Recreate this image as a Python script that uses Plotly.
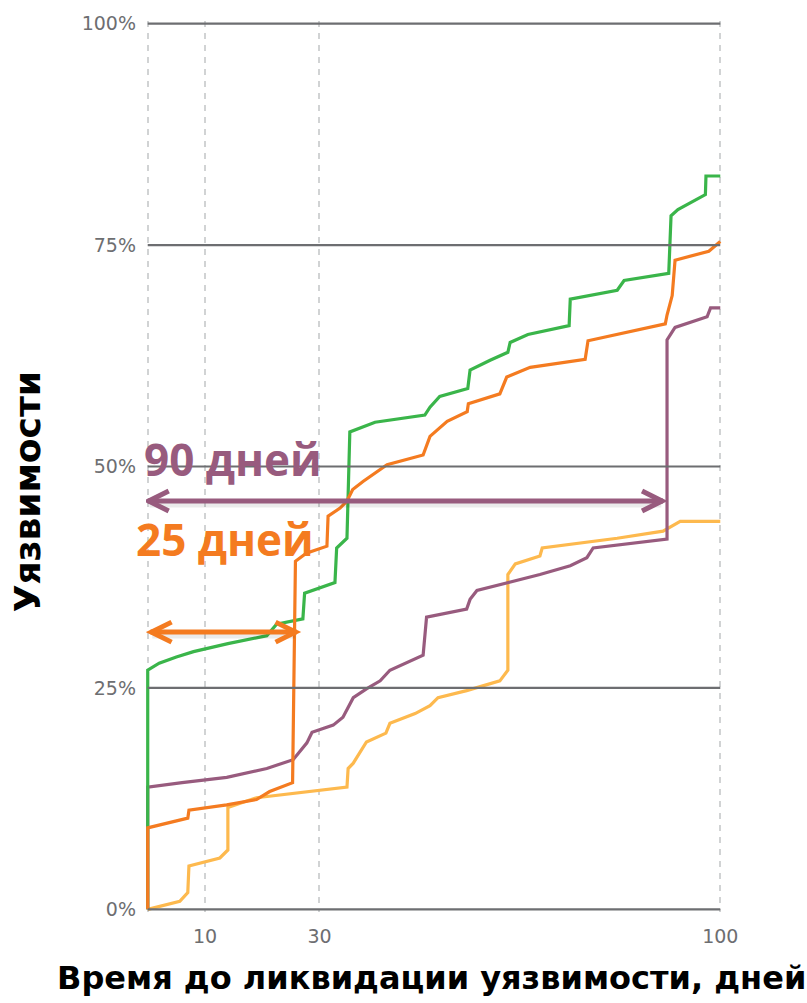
import plotly.graph_objects as go

# ---------------- data ----------------
green_x = [0, 0, 2, 5, 8, 14, 20.8, 22.5, 27.1, 27.4, 32.7, 33.0, 34.8, 35.3, 39.7, 48.4, 49.3, 51.0,
           55.9, 56.3, 59.8, 62.9, 63.3, 66.4, 73.6, 73.8, 82.0, 83.2, 91.0, 91.4, 92.6, 97.4, 97.5, 100]
green_y = [0, 27.0, 27.8, 28.5, 29.1, 30.0, 30.9, 32.2, 32.8, 35.7, 36.9, 40.8, 41.9, 53.9, 55.0, 55.8,
           56.7, 57.9, 58.8, 60.9, 62.0, 62.9, 64.0, 64.9, 65.9, 68.9, 69.9, 71.0, 71.8, 78.3, 79.0, 80.7,
           82.8, 82.8]

orange_x = [0, 0, 7.0, 7.2, 13.8, 19.0, 21.3, 25.3, 25.8, 27.7, 31.3, 31.5, 33.6, 34.8, 35.8, 37.6, 41.8,
            48.1, 49.3, 52.3, 55.8, 56.0, 61.5, 62.7, 66.8, 76.4, 76.9, 90.4, 90.7, 91.6, 92.1, 98.0, 100]
orange_y = [0, 9.2, 10.3, 11.2, 11.8, 12.4, 13.3, 14.3, 39.3, 40.2, 41.0, 44.4, 45.3, 46.1, 47.4, 48.3,
            50.2, 51.3, 53.4, 55.1, 56.2, 57.1, 58.2, 60.1, 61.2, 62.1, 64.2, 66.1, 67.1, 69.3, 73.3, 74.3,
            75.4]

purple_x = [0, 0, 6.0, 13.8, 20.8, 25.4, 27.8, 28.7, 32.4, 34.1, 35.9, 38.2, 40.6, 42.3, 48.1, 48.7,
            55.7, 56.3, 57.5, 68.5, 73.8, 76.7, 77.8, 90.7, 90.7, 92.1, 97.7, 98.3, 100]
purple_y = [0, 13.8, 14.3, 14.9, 15.9, 16.9, 18.8, 20.0, 20.8, 21.7, 23.9, 24.9, 25.8, 27.0, 28.7, 33.0,
            33.9, 35.0, 36.0, 37.8, 38.8, 39.7, 40.8, 41.8, 64.3, 65.7, 66.9, 67.9, 67.9]

yellow_x = [0, 5.6, 7.0, 7.2, 12.6, 14.0, 14.0, 19.0, 34.8, 35.0, 35.9, 38.2, 41.6, 42.3, 46.7, 49.3,
            50.7, 55.7, 61.5, 62.9, 62.9, 64.2, 68.5, 68.9, 82.0, 90.0, 93.0, 100]
yellow_y = [0, 0.9, 1.9, 4.9, 5.8, 6.7, 11.5, 12.6, 13.8, 15.9, 16.5, 18.9, 19.9, 21.0, 22.1, 23.0,
            23.9, 24.7, 25.8, 27.0, 37.8, 39.0, 39.9, 40.8, 41.9, 42.7, 43.8, 43.8]

x_tick_vals = [0, 10, 30, 100]
x_tick_text = ["", "10", "30", "100"]
y_tick_vals = [0, 25, 50, 75, 100]
y_tick_text = ["0%", "25%", "50%", "75%", "100%"]

# arrows: (start day, end day, level %)
purple_arrow = [0, 90, 46.1]
orange_arrow = [0.5, 26, 31.3]
purple_label = "90 дней"
orange_label = "25 дней"
x_title = "Время до ликвидации уязвимости, дней"
y_title = "Уязвимости"

GREEN = "#3AB54A"
ORANGE = "#F47B20"
PURPLE = "#985B7E"
YELLOW = "#FDB94E"
GRID_H = "#6D6E71"
GRID_V = "#D1D3D4"
TICK = "#6D6E71"

fig = go.Figure()
for xs, ys, col in [(yellow_x, yellow_y, YELLOW), (purple_x, purple_y, PURPLE),
                    (green_x, green_y, GREEN), (orange_x, orange_y, ORANGE)]:
    fig.add_trace(go.Scatter(x=xs, y=ys, mode="lines", line=dict(color=col, width=3.2),
                             showlegend=False, hoverinfo="skip"))

shapes = []
# horizontal grid lines on top of the traces
for v in y_tick_vals:
    shapes.append(dict(type="line", xref="x", yref="y", x0=x_tick_vals[0], x1=x_tick_vals[-1],
                       y0=v, y1=v, line=dict(color=GRID_H, width=2.2), layer="above"))


def arrow(spec, col):
    x0, x1, yv = spec
    out = []
    # soft shadow
    out.append(dict(type="line", xref="x", yref="y", ysizemode="pixel", yanchor=yv,
                    x0=x0 + 0.3, x1=x1 - 0.3, y0=-3, y1=-3,
                    line=dict(color="rgba(0,0,0,0.08)", width=7), layer="above"))
    out.append(dict(type="line", xref="x", yref="y", x0=x0, x1=x1, y0=yv, y1=yv,
                    line=dict(color=col, width=5), layer="above"))
    out.append(dict(type="path", xref="x", yref="y", xsizemode="pixel", ysizemode="pixel",
                    xanchor=x0, yanchor=yv, path="M 21,10 L 1,0 L 21,-10",
                    line=dict(color=col, width=5), layer="above"))
    out.append(dict(type="path", xref="x", yref="y", xsizemode="pixel", ysizemode="pixel",
                    xanchor=x1, yanchor=yv, path="M -21,10 L -1,0 L -21,-10",
                    line=dict(color=col, width=5), layer="above"))
    return out


shapes += arrow(purple_arrow, PURPLE)
shapes += arrow(orange_arrow, ORANGE)

annotations = [
    dict(text=purple_label, xref="x", yref="y", x=0, y=50.8, xanchor="left", yanchor="middle",
         xshift=-6, showarrow=False,
         font=dict(family="Open Sans", size=44, color=PURPLE, weight="bold")),
    dict(text=orange_label, xref="x", yref="y", x=0, y=41.8, xanchor="left", yanchor="middle",
         xshift=-14, showarrow=False,
         font=dict(family="Open Sans", size=44, color=ORANGE, weight="bold")),
    dict(text=x_title, xref="paper", yref="paper", x=0.495, y=-0.074, xanchor="center",
         yanchor="middle", showarrow=False,
         font=dict(family="DejaVu Sans", size=32, color="black", weight="bold")),
    dict(text=y_title, xref="paper", yref="paper", x=-0.205, y=0.472, xanchor="center",
         yanchor="middle", textangle=-90, showarrow=False,
         font=dict(family="DejaVu Sans", size=36, color="black", weight="bold")),
]

fig.update_layout(
    width=807, height=1003,
    margin=dict(l=146, r=85, t=17, b=91),
    paper_bgcolor="white", plot_bgcolor="white",
    shapes=shapes, annotations=annotations,
    xaxis=dict(range=[-0.3, 100.3], tickvals=x_tick_vals, ticktext=x_tick_text,
               showgrid=True, gridcolor=GRID_V, gridwidth=2, griddash="6px,6px",
               zeroline=False, showline=False, ticks="", ticklabelstandoff=11,
               tickfont=dict(family="DejaVu Sans", size=19, color=TICK)),
    yaxis=dict(range=[-0.3, 100.3], tickvals=y_tick_vals, ticktext=y_tick_text,
               showgrid=False, zeroline=False, showline=False, ticks="", ticklabelstandoff=9,
               tickfont=dict(family="DejaVu Sans", size=19, color=TICK)),
)

fig.write_html("out.html")
